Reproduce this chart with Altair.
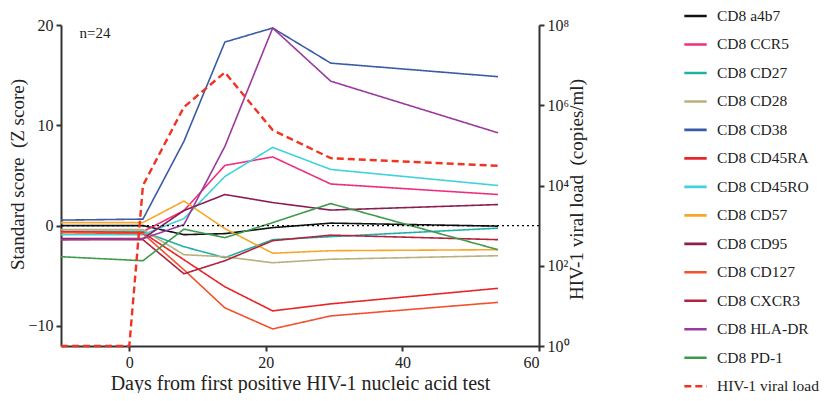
import altair as alt
import pandas as pd

# ---------------- data ----------------
days = [-10, 2, 8, 14, 21, 29.5, 54]

series_names = [
    "CD8 a4b7", "CD8 CCR5", "CD8 CD27", "CD8 CD28", "CD8 CD38", "CD8 CD45RA",
    "CD8 CD45RO", "CD8 CD57", "CD8 CD95", "CD8 CD127", "CD8 CXCR3",
    "CD8 HLA-DR", "CD8 PD-1",
]
z_a4b7 = [0.0, 0.0, -0.9, -0.8, -0.2, 0.25, -0.05]
z_ccr5 = [-0.6, -0.6, 1.5, 6.0, 6.85, 4.15, 3.1]
z_cd27 = [-0.6, -0.6, -2.1, -3.2, -1.4, -1.1, -0.25]
z_cd28 = [-0.4, -0.4, -2.9, -3.1, -3.7, -3.35, -3.0]
z_cd38 = [0.55, 0.65, 8.4, 18.3, 19.7, 16.2, 14.85]
z_cd45ra = [-0.6, -0.7, -3.4, -6.1, -8.5, -7.8, -6.25]
z_cd45ro = [-0.9, -0.9, 0.7, 4.9, 7.8, 5.6, 4.0]
z_cd57 = [0.3, 0.3, 2.45, -0.3, -2.75, -2.5, -2.4]
z_cd95 = [-1.3, -1.3, 1.5, 3.1, 2.3, 1.55, 2.1]
z_cd127 = [-0.7, -0.8, -4.4, -8.2, -10.3, -9.0, -7.65]
z_cxcr3 = [-1.4, -1.4, -4.8, -3.5, -1.5, -0.95, -1.4]
z_hladr = [-1.4, -1.3, 0.1, 7.9, 19.7, 14.4, 9.25]
z_pd1 = [-3.1, -3.5, -0.35, -1.2, 0.3, 2.2, -2.4]

z_values = [z_a4b7, z_ccr5, z_cd27, z_cd28, z_cd38, z_cd45ra, z_cd45ro,
            z_cd57, z_cd95, z_cd127, z_cxcr3, z_hladr, z_pd1]

vl_name = "HIV-1 viral load"
vl_days = [-10, 0, 2, 8, 14, 21, 29.5, 54]
vl_copies = [1, 1, 1.0e4, 9.0e5, 6.6e6, 2.4e5, 4.8e4, 3.1e4]

annotation = ["n=24"]

colors = ["#111111", "#ef2f7d", "#22b0a6", "#b8b07e", "#3a5ba6", "#e8262a",
          "#3fd2dc", "#f6a72a", "#8a1d52", "#f2512c", "#b3213c", "#9b3a9d",
          "#3f9a4c", "#f03322"]
dashes = [[1, 0]] * 13 + [[7, 4]]

all_names = series_names + [vl_name]

rows = []
for name, vals in zip(series_names, z_values):
    for d, v in zip(days, vals):
        rows.append({"series": name, "day": d, "z": v})
z_df = pd.DataFrame(rows)
vl_df = pd.DataFrame({"series": vl_name, "day": vl_days, "copies": vl_copies})
note_df = pd.DataFrame({"label": annotation, "day": [-7.3], "z": [19.2]})
zero_df = pd.DataFrame({"z": [0]})

FONT = "Liberation Serif"

x_scale = alt.Scale(domain=[-10, 60], nice=False, zero=False)
x_axis = alt.Axis(values=[0, 20, 40, 60], title="Days from first positive HIV-1 nucleic acid test",
                  titleFontSize=20, titleY=43.5, titleBaseline="alphabetic")

color_enc = alt.Color("series:N", scale=alt.Scale(domain=all_names, range=colors),
                      legend=alt.Legend(title=None))
dash_enc = alt.StrokeDash("series:N", scale=alt.Scale(domain=all_names, range=dashes),
                          legend=alt.Legend(title=None))

z_scale = alt.Scale(domain=[-12, 20], nice=False, zero=False)

lines = alt.Chart(z_df).mark_line(strokeWidth=1.6).encode(
    x=alt.X("day:Q", scale=x_scale, axis=x_axis),
    y=alt.Y("z:Q", scale=z_scale,
            axis=alt.Axis(values=[-10, 0, 10, 20], title="Standard score\u2002(Z score)",
                          titleFontSize=19, titleX=-37.5, titleY=149,
                          titleBaseline="alphabetic", titleAngle=270)),
    color=color_enc,
    strokeDash=dash_enc,
    order=alt.Order("day:Q"),
)

zero_rule = alt.Chart(zero_df).mark_rule(color="black", strokeDash=[2, 3], strokeWidth=1.3).encode(
    y=alt.Y("z:Q", scale=z_scale)
)

n_text = alt.Chart(note_df).mark_text(font=FONT, fontSize=15, align="left",
                                      baseline="middle", color="#222").encode(
    x=alt.X("day:Q", scale=x_scale), y=alt.Y("z:Q", scale=z_scale), text="label:N"
)

left = alt.layer(lines, zero_rule, n_text)

viral = alt.Chart(vl_df).mark_line(strokeWidth=2.4).encode(
    x=alt.X("day:Q", scale=x_scale, axis=x_axis),
    y=alt.Y("copies:Q", scale=alt.Scale(type="log", domain=[1, 1e8], nice=False),
            axis=alt.Axis(orient="right", values=[1, 100, 1e4, 1e6, 1e8],
                          labelExpr="'10' + ['\u2070','\u00b9','\u00b2','\u00b3','\u2074','\u2075','\u2076','\u2077','\u2078'][round(log(datum.value)/LN10)]",
                          title="HIV-1 viral load\u2002(copies/ml)", titleFontSize=19,
                          titleX=43.5, titleY=164, titleAngle=270, titleBaseline="alphabetic")),
    color=color_enc,
    strokeDash=dash_enc,
    order=alt.Order("day:Q"),
)

chart = alt.layer(left, viral).resolve_scale(y="independent").properties(
    width=478, height=321,
    autosize=alt.AutoSizeParams(type="none"),
    padding={"left": 53, "top": 17, "right": 283, "bottom": 47},
).configure_view(stroke=None).configure_axis(
    labelFont=FONT, titleFont=FONT, labelFontSize=16, labelColor="#222", titleColor="#222",
    titleFontWeight="normal", domainColor="#333", domainWidth=2, tickColor="#333",
    tickWidth=2, tickSize=5, grid=False, labelPadding=3,
).configure_legend(
    orient="none", legendX=622, legendY=-21.5, padding=0,
    labelFont=FONT, labelFontSize=15.5, labelColor="#222",
    symbolType="stroke", symbolSize=500, symbolStrokeWidth=2.6,
    rowPadding=7.48, labelOffset=9, labelLimit=200,
)

chart.save("out.html", embed_options={"renderer": "svg", "actions": False})
